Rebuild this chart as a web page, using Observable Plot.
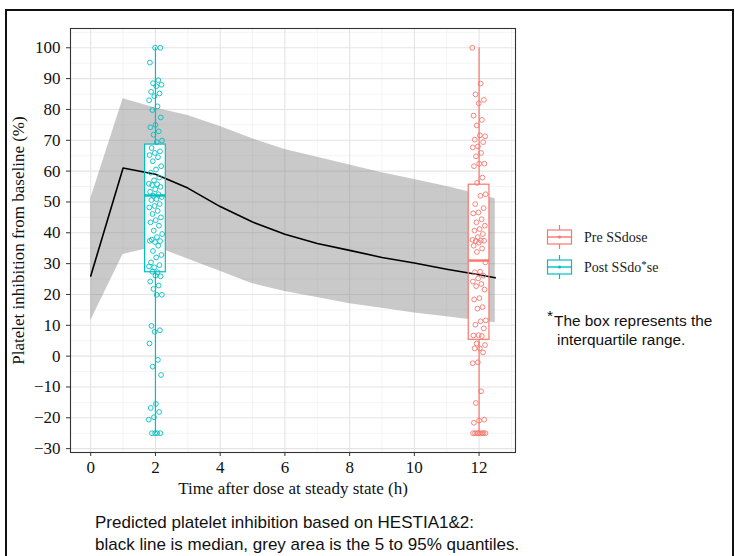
<!DOCTYPE html>
<html><head><meta charset="utf-8">
<script src="https://cdn.jsdelivr.net/npm/d3@7"></script>
<script src="https://cdn.jsdelivr.net/npm/@observablehq/plot@0.6"></script>
<style>
html,body{margin:0;padding:0;overflow:hidden;background:#fff}
#wrap{position:relative;width:735px;height:556px;overflow:hidden}
#frame{position:absolute;left:5px;top:9px;width:729px;height:570px;border:2px solid #111;box-sizing:border-box}
#chart{position:absolute;left:0;top:0}
#over{position:absolute;left:0;top:0}
</style></head>
<body><div id="wrap"><div id="frame"></div><div id="chart"></div>
<svg id="over" width="735" height="556"></svg></div>
<script>
// ---- data ----
const times  = [0, 1, 2, 3, 4, 5, 6, 7, 8, 9, 10, 11, 12, 12.5];
const median = [26, 61, 59, 54.5, 48.5, 43.5, 39.5, 36.5, 34.3, 32, 30.2, 28.2, 26.4, 25.4];
const lower  = [11.5, 33, 35.5, 31.5, 27.5, 23.5, 21, 19, 17, 15.5, 14, 12.8, 11.5, 10.8];
const upper  = [51, 83.5, 80.5, 78, 74.5, 70.5, 67, 64.5, 62, 59.5, 57.3, 55, 52.5, 51];

const groups    = ["Pre SSdose", "Post SSdose"];
const groupTime = [12, 2];
const groupColor = ["#F8766D", "#00BFC4"];
const boxMin = [-25, -25];
const boxQ1  = [5.3, 27.2];
const boxMed = [31, 52.1];
const boxQ3  = [55.6, 68.6];
const boxMax = [100, 100];

const preValues = [100, 88.4, 84.9, 83.1, 82, 78, 76.6, 74.8, 71.3, 71.6, 70.2, 69.4, 68, 67.7, 65.9, 64.8, 62.4, 62.4, 61.6, 57.9, 56.2,
  52.5, 52, 49.3, 48, 46.6, 46.3, 44.4, 43.4, 42.3, 41.2, 40.7, 39.6, 38.6, 37.7, 37.5, 37.3,
  37.4, 36.8, 35.8, 34.9, 33.8, 30.4, 27.4, 27.2, 26.1, 25.2, 24.2, 23.4, 22.7, 21.6, 18.8, 18.4, 15.9, 15.4,
  11.6, 11.3, 10.2, 9, 6.8, 6.7, 6.5, 4.1, 3.6, 2.5, 2.5, 1.2, -2, -2.3, -11.4, -15.2, -20.6, -20.9, -21.6,
  -25, -25, -25, -25, -25, -25, -25, -25];
const postValues = [100, 100, 95.2, 89.5, 88.5, 88, 87.5, 85.7, 85.2, 84.3, 83, 81, 79.8, 77.4, 75, 74.2, 72.9, 71.8, 69.9, 69.4,
  67.5, 66.4, 65.9, 65.2, 64.5, 63.2, 61.6, 60.5, 59.5, 57.9, 57, 55.9, 55.7, 55.5, 54.9, 54.1, 53.3, 52.5, 52, 51.6, 50.9, 50.6,
  49.3, 48.7, 48.2, 47.1, 46.1, 45, 44.1, 43.4, 42.3, 40.7, 39.6, 38.6, 37.8, 37.3, 37,
  37.4, 35.8, 34.1, 32.8, 32, 30.4, 29.5, 28.8, 29.1,
  27.2, 27.4, 25.9, 26.1, 24.2, 22.9, 21.8, 19.9, 19.9, 9.8, 8.4, 7.9, 4.1, -1.2, -3.4, -6.1,
  -15.5, -16.8, -18.1, -19.8, -20.6, -25, -25, -25, -25];

const xTicks = [0, 2, 4, 6, 8, 10, 12];
const xMinor = [1, 3, 5, 7, 9, 11, 13];
const yTicks = [-30, -20, -10, 0, 10, 20, 30, 40, 50, 60, 70, 80, 90, 100];
const yMinor = [-25, -15, -5, 5, 15, 25, 35, 45, 55, 65, 75, 85, 95, 105];

// ---- tables ----
const band = times.map((t, i) => ({t, med: median[i], lo: lower[i], hi: upper[i]}));
const boxes = groups.map((g, i) => ({g, t: groupTime[i], min: boxMin[i], q1: boxQ1[i], med: boxMed[i], q3: boxQ3[i], max: boxMax[i], c: groupColor[i]}));
const jit = i => (((i * 0.618034) % 1) - 0.5) * 0.42;
const pts = [
  ...preValues.map((v, i) => ({g: groups[0], x: groupTime[0] + jit(i), v, c: groupColor[0]})),
  ...postValues.map((v, i) => ({g: groups[1], x: groupTime[1] + jit(i + 3), v, c: groupColor[1]}))
];
const hw = 0.32;

const chart = Plot.plot({
  width: 735, height: 556,
  marginLeft: 70, marginRight: 220, marginTop: 28, marginBottom: 104,
  style: {fontFamily: "'Liberation Serif', serif", fontSize: "14px", background: "transparent"},
  x: {domain: [-0.625, 13.125]},
  y: {domain: [-31.25, 106.25]},
  marks: [
    Plot.ruleY(yMinor, {stroke: "#ececec", strokeWidth: 0.6}),
    Plot.ruleX(xMinor, {stroke: "#ececec", strokeWidth: 0.6}),
    Plot.ruleY(yTicks, {stroke: "#e4e4e4", strokeWidth: 1.1}),
    Plot.ruleX(xTicks, {stroke: "#e4e4e4", strokeWidth: 1.1}),
    Plot.areaY(band, {x: "t", y1: "lo", y2: "hi", fill: "#7f7f7f", fillOpacity: 0.42}),
    Plot.rect(boxes, {x1: d => d.t - hw, x2: d => d.t + hw, y1: "q1", y2: "q3", fill: "white"}),
    Plot.line(band, {x: "t", y: "med", stroke: "black", strokeWidth: 1.6}),
    Plot.ruleX(boxes, {x: "t", y1: "min", y2: "q1", stroke: "c", strokeWidth: 1.2}),
    Plot.ruleX(boxes, {x: "t", y1: "q3", y2: "max", stroke: "c", strokeWidth: 1.2}),
    Plot.dot(pts, {x: "x", y: "v", r: 2.4, stroke: "c", strokeWidth: 0.9, fill: "none"}),
    Plot.rect(boxes, {x1: d => d.t - hw, x2: d => d.t + hw, y1: "q1", y2: "q3", fill: "none", stroke: "c", strokeWidth: 1.2}),
    Plot.ruleY(boxes, {y: "med", x1: d => d.t - hw, x2: d => d.t + hw, stroke: "c", strokeWidth: 2.4}),
    Plot.frame({stroke: "#333", strokeWidth: 1.1}),
    Plot.axisY(yTicks, {tickSize: 4, tickPadding: 6, color: "#333", fontSize: 14,
      label: "Platelet inhibition from baseline (%)", labelAnchor: "center", labelOffset: 59, labelArrow: "none"}),
    Plot.axisX(xTicks, {tickSize: 4, tickPadding: 4, color: "#333", fontSize: 14,
      label: "Time after dose at steady state (h)", labelAnchor: "center", labelOffset: 41, labelArrow: "none"})
  ]
});
document.getElementById("chart").appendChild(chart);
chart.querySelectorAll("[aria-label$='label'] text").forEach(t => {
  t.style.fontSize = "17px"; t.setAttribute("fill", "#111");
  t.textContent = t.textContent.replace(/\s*[↑→←↓]\s*/g, "").trim();
});

// ---- legend and notes ----
const over = d3.select("#over");
const keyTop = [225, 255];
groups.forEach((g, i) => {
  const k = over.append("g").attr("transform", `translate(547,${keyTop[i]})`);
  const c = groupColor[i];
  k.append("line").attr("x1", 12.5).attr("x2", 12.5).attr("y1", 0).attr("y2", 24).attr("stroke", c).attr("stroke-width", 1.2);
  k.append("rect").attr("x", 0.5).attr("y", 5).attr("width", 24).attr("height", 14).attr("fill", "white").attr("stroke", c).attr("stroke-width", 1.2);
  k.append("line").attr("x1", 0.5).attr("x2", 24.5).attr("y1", 12).attr("y2", 12).attr("stroke", c).attr("stroke-width", 1.4);
  k.append("circle").attr("cx", 12.5).attr("cy", 12).attr("r", 1.6).attr("fill", c);
  const t = over.append("text").attr("x", 584).attr("y", keyTop[i] + 17).attr("font-family", "'Liberation Serif', serif")
    .attr("font-size", 14).attr("fill", "#222");
  if (i === 1) {
    t.append("tspan").text("Post SSdo");
    t.append("tspan").attr("dy", -4).attr("font-size", 11).text("*");
    t.append("tspan").attr("dy", 4).text("se");
  } else {
    t.text(g);
  }
});
const sans = "'Liberation Sans', Arial, sans-serif";
const note = over.append("text").attr("x", 547).attr("y", 326).attr("font-family", sans).attr("font-size", 15.4).attr("fill", "#111");
note.append("tspan").attr("dy", -5).text("*");
note.append("tspan").attr("dy", 5).attr("dx", 1).text("The box represents the");
over.append("text").attr("x", 557).attr("y", 345).attr("font-family", sans).attr("font-size", 15.4).attr("fill", "#111").text("interquartile range.");
over.append("text").attr("x", 95).attr("y", 528).attr("font-family", sans).attr("font-size", 17).attr("fill", "#111").text("Predicted platelet inhibition based on HESTIA1&2:");
over.append("text").attr("x", 95).attr("y", 550).attr("font-family", sans).attr("font-size", 17).attr("fill", "#111").text("black line is median, grey area is the 5 to 95% quantiles.");
</script></body></html>
